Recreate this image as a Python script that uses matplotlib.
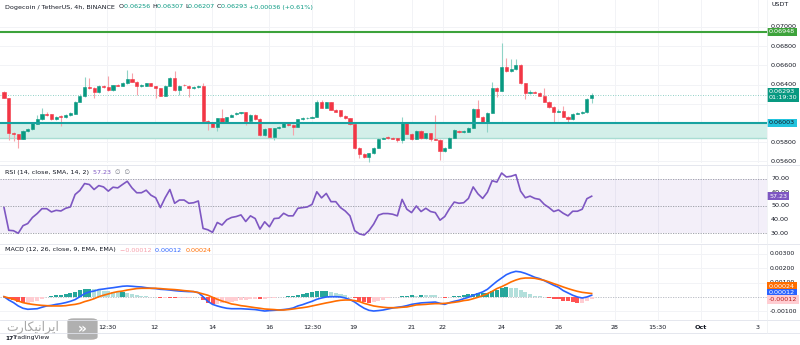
import numpy as np
import matplotlib
matplotlib.use("Agg")
import matplotlib.pyplot as plt
import matplotlib.transforms as mtransforms
from matplotlib.patches import FancyBboxPatch

# DOGE/USDT 4h candles, oldest first
opens = [
    0.06320, 0.06262, 0.05900, 0.05886, 0.05834, 0.05917, 0.05934, 0.05990, 0.06038, 0.06094,
    0.06090, 0.06042, 0.06073, 0.06059, 0.06083, 0.06094, 0.06222, 0.06281, 0.06371, 0.06368,
    0.06319, 0.06385, 0.06371, 0.06340, 0.06399, 0.06385, 0.06413, 0.06458, 0.06430, 0.06389,
    0.06389, 0.06413, 0.06385, 0.06361, 0.06285, 0.06385, 0.06465, 0.06344, 0.06399, 0.06389,
    0.06361, 0.06371, 0.06389, 0.06024, 0.06007, 0.05962, 0.06049, 0.06007, 0.06066, 0.06090,
    0.06101, 0.06111, 0.06021, 0.06083, 0.06042, 0.05875, 0.05945, 0.05858, 0.05945, 0.05962,
    0.05990, 0.05979, 0.05962, 0.06038, 0.06049, 0.06056, 0.06067, 0.06223, 0.06161, 0.06216,
    0.06136, 0.06130, 0.06074, 0.06050, 0.05987, 0.05737, 0.05675, 0.05650, 0.05685, 0.05744,
    0.05834, 0.05852, 0.05848, 0.05841, 0.05824, 0.06008, 0.05886, 0.05834, 0.05918, 0.05841,
    0.05893, 0.05834, 0.05824, 0.05709, 0.05744, 0.05848, 0.05921, 0.05907, 0.05911, 0.05952,
    0.06147, 0.06067, 0.06015, 0.06108, 0.06362, 0.06337, 0.06587, 0.06542, 0.06560, 0.06605,
    0.06414, 0.06310, 0.06327, 0.06317, 0.06285, 0.06223, 0.06171, 0.06119, 0.06129, 0.06067,
    0.06039, 0.06098, 0.06101, 0.06112, 0.06256,
]
closes = [
    0.06262, 0.05900, 0.05886, 0.05834, 0.05920, 0.05938, 0.05997, 0.06042, 0.06094, 0.06083,
    0.06042, 0.06066, 0.06059, 0.06083, 0.06101, 0.06222, 0.06281, 0.06371, 0.06361, 0.06319,
    0.06385, 0.06371, 0.06340, 0.06392, 0.06389, 0.06420, 0.06458, 0.06430, 0.06389, 0.06396,
    0.06413, 0.06385, 0.06361, 0.06285, 0.06385, 0.06465, 0.06344, 0.06389, 0.06392, 0.06361,
    0.06371, 0.06389, 0.06024, 0.06007, 0.05962, 0.06049, 0.06007, 0.06059, 0.06083, 0.06101,
    0.06111, 0.06021, 0.06083, 0.06042, 0.05875, 0.05938, 0.05858, 0.05945, 0.05962, 0.05997,
    0.05979, 0.05962, 0.06038, 0.06049, 0.06056, 0.06067, 0.06223, 0.06161, 0.06216, 0.06136,
    0.06119, 0.06074, 0.06050, 0.05987, 0.05737, 0.05675, 0.05650, 0.05685, 0.05744, 0.05834,
    0.05848, 0.05841, 0.05834, 0.05824, 0.06008, 0.05886, 0.05834, 0.05918, 0.05841, 0.05893,
    0.05834, 0.05824, 0.05709, 0.05744, 0.05848, 0.05928, 0.05907, 0.05918, 0.05952, 0.06147,
    0.06067, 0.06015, 0.06108, 0.06362, 0.06337, 0.06587, 0.06542, 0.06560, 0.06605, 0.06414,
    0.06310, 0.06327, 0.06317, 0.06285, 0.06223, 0.06171, 0.06119, 0.06129, 0.06067, 0.06039,
    0.06095, 0.06105, 0.06112, 0.06251, 0.06293,
]
highs = [
    0.06330, 0.06265, 0.05910, 0.05890, 0.05927, 0.05945, 0.06005, 0.06083, 0.06153, 0.06118,
    0.06095, 0.06075, 0.06085, 0.06090, 0.06110, 0.06230, 0.06300, 0.06483, 0.06465, 0.06375,
    0.06395, 0.06392, 0.06493, 0.06400, 0.06405, 0.06428, 0.06552, 0.06524, 0.06435, 0.06403,
    0.06420, 0.06420, 0.06390, 0.06365, 0.06392, 0.06475, 0.06541, 0.06395, 0.06405, 0.06395,
    0.06380, 0.06400, 0.06413, 0.06030, 0.06015, 0.06055, 0.06142, 0.06066, 0.06090, 0.06110,
    0.06118, 0.06118, 0.06090, 0.06090, 0.06050, 0.05945, 0.05950, 0.05952, 0.05970, 0.06005,
    0.05997, 0.05985, 0.06045, 0.06060, 0.06066, 0.06075, 0.06240, 0.06235, 0.06223, 0.06223,
    0.06145, 0.06140, 0.06080, 0.06056, 0.05995, 0.05745, 0.05685, 0.05692, 0.05752, 0.05842,
    0.05855, 0.05860, 0.05855, 0.05848, 0.06067, 0.06015, 0.05893, 0.05925, 0.05925, 0.05900,
    0.05900, 0.06084, 0.05830, 0.05750, 0.05855, 0.05935, 0.05928, 0.05925, 0.05960, 0.06155,
    0.06240, 0.06075, 0.06115, 0.06431, 0.06370, 0.06830, 0.06674, 0.06664, 0.06664, 0.06612,
    0.06420, 0.06340, 0.06335, 0.06320, 0.06362, 0.06230, 0.06178, 0.06150, 0.06178, 0.06075,
    0.06101, 0.06112, 0.06120, 0.06262, 0.06307,
]
lows = [
    0.06255, 0.05823, 0.05810, 0.05736, 0.05830, 0.05910, 0.05925, 0.05985, 0.06030, 0.06075,
    0.06035, 0.06035, 0.05969, 0.06050, 0.06075, 0.06090, 0.06215, 0.06275, 0.06355, 0.06257,
    0.06310, 0.06365, 0.06335, 0.06335, 0.06385, 0.06380, 0.06405, 0.06425, 0.06292, 0.06375,
    0.06380, 0.06380, 0.06264, 0.06278, 0.06280, 0.06380, 0.06338, 0.06288, 0.06385, 0.06267,
    0.06355, 0.06365, 0.06015, 0.05927, 0.05955, 0.05920, 0.06000, 0.05997, 0.06060, 0.06085,
    0.06095, 0.05980, 0.06015, 0.06035, 0.05868, 0.05868, 0.05850, 0.05820, 0.05938, 0.05955,
    0.05970, 0.05875, 0.05955, 0.06030, 0.06042, 0.06050, 0.06060, 0.06155, 0.06155, 0.06130,
    0.06112, 0.06067, 0.06042, 0.05980, 0.05730, 0.05633, 0.05630, 0.05598, 0.05678, 0.05737,
    0.05828, 0.05835, 0.05828, 0.05800, 0.05790, 0.05880, 0.05820, 0.05828, 0.05835, 0.05835,
    0.05815, 0.05818, 0.05616, 0.05700, 0.05737, 0.05840, 0.05900, 0.05900, 0.05905, 0.05945,
    0.06060, 0.06008, 0.05911, 0.06100, 0.06275, 0.06330, 0.06535, 0.06535, 0.06553, 0.06408,
    0.06250, 0.06303, 0.06310, 0.06278, 0.06216, 0.06160, 0.06015, 0.06112, 0.06060, 0.06000,
    0.06030, 0.06090, 0.06095, 0.06105, 0.06207,
]

rsi = [
    48.8, 32.0, 31.7, 29.8, 35.4, 37.0, 41.5, 44.4, 48.0, 48.0,
    45.6, 46.8, 46.3, 48.3, 49.3, 58.5, 61.5, 66.6, 65.9, 62.2,
    65.1, 64.1, 61.0, 63.9, 63.4, 65.9, 68.3, 63.4, 59.8, 59.8,
    61.7, 58.0, 56.1, 48.8, 56.1, 62.2, 52.0, 54.4, 54.4, 52.0,
    52.4, 53.7, 33.4, 32.4, 30.5, 37.8, 35.9, 39.8, 41.5, 42.2,
    43.4, 38.5, 42.7, 40.7, 32.9, 38.3, 34.6, 40.7, 41.0, 44.6,
    42.7, 42.7, 48.3, 48.8, 49.3, 51.2, 60.5, 56.0, 59.3, 53.2,
    53.2, 48.8, 46.3, 42.7, 31.7, 29.3, 28.5, 31.7, 36.6, 43.2,
    44.4, 44.4, 43.9, 42.7, 54.9, 47.6, 45.1, 50.0, 45.9, 48.3,
    45.9, 45.1, 39.5, 42.2, 48.0, 52.9, 52.0, 52.4, 55.6, 64.1,
    59.0, 55.6, 60.2, 68.7, 67.7, 74.4, 71.5, 72.0, 73.2, 61.0,
    56.1, 57.3, 55.6, 54.9, 51.2, 48.8, 45.9, 47.1, 44.6, 42.7,
    46.1, 46.1, 47.6, 55.4, 57.23,
]

# MACD (12, 26, 9) in units of 1e-5
macd_e5 = [
    2, -21, -39, -62, -78, -85, -83, -81, -71, -62,
    -58, -51, -46, -39, -30, -18, 2, 23, 35, 41,
    51, 55, 60, 64, 69, 74, 76, 74, 71, 69,
    64, 60, 58, 53, 51, 48, 44, 41, 39, 37,
    37, 30, 2, -30, -51, -62, -71, -78, -81, -81,
    -81, -83, -85, -87, -92, -97, -94, -92, -90, -87,
    -83, -76, -62, -53, -41, -30, -16, -7, 0, 2,
    2, 0, -7, -18, -35, -58, -78, -92, -97, -94,
    -90, -83, -76, -71, -67, -60, -51, -46, -41, -39,
    -37, -35, -44, -51, -39, -30, -23, -12, -2, 12,
    23, 35, 53, 81, 108, 131, 154, 168, 177, 173,
    163, 150, 136, 127, 113, 97, 81, 67, 44, 28,
    12, 0, -7, 0, 12,
]
signal_e5 = [
    2, -7, -16, -28, -39, -46, -51, -55, -58, -60,
    -62, -62, -62, -60, -55, -51, -44, -32, -23, -12,
    2, 12, 21, 30, 37, 41, 48, 53, 58, 60,
    60, 60, 60, 58, 55, 53, 51, 48, 44, 41,
    37, 30, 21, 12, -2, -16, -28, -37, -48, -53,
    -60, -64, -69, -74, -78, -83, -85, -87, -90, -90,
    -87, -83, -78, -74, -69, -62, -55, -48, -41, -35,
    -28, -23, -21, -21, -25, -32, -44, -53, -62, -67,
    -71, -74, -74, -74, -71, -69, -62, -55, -53, -51,
    -48, -46, -46, -44, -41, -37, -32, -25, -21, -12,
    -2, 9, 23, 39, 58, 71, 87, 104, 117, 127,
    131, 131, 129, 122, 115, 104, 92, 81, 69, 58,
    48, 39, 32, 28, 24,
]

resistance = 0.06948
zone_top = 0.06003
zone_bottom = 0.05844
last_price = 0.06293

price_ticks = [0.05600, 0.05800, 0.06400, 0.06600, 0.06800, 0.07000]
rsi_ticks = [30, 40, 50, 60, 70]
macd_ticks = [-0.001, 0.001, 0.002, 0.003]
time_labels = ["12:30", "12", "14", "16", "12:30", "19", "21", "22", "24", "26", "28", "15:30", "Oct", "3"]
time_pos = [21.7, 31.8, 43.9, 55.9, 65.0, 73.8, 86.0, 92.6, 105.0, 117.0, 128.9, 137.9, 147.0, 159.0]

UP = "#089981"
DOWN = "#f23645"
GRID = "#f2f3f6"
TXT = "#131722"

W, H = 800, 345
fig = plt.figure(figsize=(W / 100, H / 100), dpi=100)
fig.patch.set_facecolor("white")


def px_axes(top, bottom):
    return fig.add_axes([0, 1 - bottom / H, 767 / W, (bottom - top) / H])


ax_p = px_axes(0, 163)
ax_r = px_axes(166, 243)
ax_m = px_axes(245, 320)

x = np.arange(len(opens))
o = np.array(opens)
c = np.array(closes)
hi = np.array(highs)
lo = np.array(lows)
up = c >= o
xlim = (-0.85, 161.0)

for ax in (ax_p, ax_r, ax_m):
    ax.set_xlim(*xlim)
    for s in ax.spines.values():
        s.set_visible(False)
    ax.tick_params(length=0, labelleft=False, labelbottom=False)
    ax.set_xticks(time_pos)
    ax.grid(axis="x", color=GRID, lw=0.7)
    ax.set_axisbelow(True)

# ---- price pane
ax_p.set_ylim(0.05583, 0.07281)
ax_p.set_yticks(price_ticks + [0.060, 0.062])
ax_p.grid(axis="y", color=GRID, lw=0.7)
ax_p.axhspan(zone_bottom, zone_top, color="#d3efe9", lw=0, zorder=1)
ax_p.axhline(zone_bottom, color="#a9ddd3", lw=1.0, zorder=1.5)
ax_p.axhline(zone_top, color="#17a2a0", lw=1.5, zorder=4)
ax_p.axhline(resistance, color="#3da33b", lw=1.5, zorder=4)
ax_p.axhline(last_price, color="#089981", lw=0.6, ls=(0, (1, 2)), alpha=0.6, zorder=1.5)

wick_col = np.where(up, "#8fd3c6", "#f7a3aa")
ax_p.vlines(x, lo, hi, colors=wick_col, lw=0.8, zorder=2)
body_col = np.where(up, UP, DOWN)
ax_p.bar(x, c - o, bottom=o, width=0.66, color=body_col, edgecolor=body_col, lw=0.4, zorder=3)

trans_p = mtransforms.blended_transform_factory(fig.transFigure, ax_p.transData)
for t in price_ticks:
    ax_p.text(771 / W, t, f"{t:.5f}", transform=trans_p, fontsize=4.6, color=TXT, va="center", ha="left")
fig.text(771 / W, 1 - 5 / H, "USDT", fontsize=4.6, color=TXT, va="center", ha="left")


def tag(ax, y, text, bg, fg="white", trans=None):
    ax.text(769 / W, y, text, transform=trans, fontsize=4.6, color=fg, va="center", ha="left",
            bbox=dict(boxstyle="square,pad=0.25", fc=bg, ec="none"), zorder=10)


tag(ax_p, resistance, f"{resistance:.5f}", "#3da33b", trans=trans_p)
tag(ax_p, last_price, f"{last_price:.5f}\n01:19:30", "#089981", trans=trans_p)
tag(ax_p, zone_top, f"{zone_top:.5f}", "#22c3dd", fg=TXT, trans=trans_p)

# header
hx = 5 / W
hy = 1 - 7 / H
parts = [("Dogecoin / TetherUS, 4h, BINANCE  ", TXT), ("O", TXT), ("0.06256 ", UP), ("H", TXT),
         ("0.06307 ", UP), ("L", TXT), ("0.06207 ", UP), ("C", TXT), ("0.06293 ", UP),
         ("+0.00036 (+0.61%)", UP)]
renderer = fig.canvas.get_renderer()
for txt, col in parts:
    t = fig.text(hx, hy, txt, fontsize=4.6, color=col, va="center", ha="left")
    bb = t.get_window_extent(renderer=renderer)
    hx += bb.width / fig.bbox.width

# ---- RSI pane
ax_r.set_ylim(22.6, 79.6)
ax_r.axhspan(30, 70, color="#7e57c2", alpha=0.09, lw=0)
for lvl in (30, 50, 70):
    ax_r.axhline(lvl, color="#9598a1", lw=0.6, ls=(0, (1.5, 1.5)))
ax_r.plot(x, rsi, color="#7e57c2", lw=1.2, zorder=3)
trans_r = mtransforms.blended_transform_factory(fig.transFigure, ax_r.transData)
for t in rsi_ticks:
    ax_r.text(771 / W, t, f"{t:.2f}", transform=trans_r, fontsize=4.6, color=TXT, va="center", ha="left")
tag(ax_r, rsi[-1], f"{rsi[-1]:.2f}", "#7e57c2", trans=trans_r)
hx = 5 / W
hy = 1 - 172 / H
for txt, col in [("RSI (14, close, SMA, 14, 2)  ", TXT), ("57.23  ", "#7e57c2"), ("\u2205  \u2205", "#787b86")]:
    t = fig.text(hx, hy, txt, fontsize=4.6, color=col, va="center", ha="left")
    hx += t.get_window_extent(renderer=renderer).width / fig.bbox.width

# ---- MACD pane
macd = np.array(macd_e5) * 1e-5
signal = np.array(signal_e5) * 1e-5
hist = macd - signal
hcol = []
for i, h in enumerate(hist):
    prev = hist[i - 1] if i > 0 else h
    if h >= 0:
        hcol.append("#26a69a" if h >= prev else "#b2dfdb")
    else:
        hcol.append("#ff5252" if h < prev else "#ffcdd2")
ax_m.set_ylim(-0.00159, 0.00359)
ax_m.set_yticks(macd_ticks)
ax_m.grid(axis="y", color=GRID, lw=0.7)
ax_m.axhline(0, color="#b2b5be", lw=0.6, ls=(0, (1.5, 1.5)))
ax_m.bar(x, hist, width=0.85, color=hcol, zorder=2)
ax_m.plot(x, macd, color="#2962ff", lw=1.2, zorder=3)
ax_m.plot(x, signal, color="#ff6d00", lw=1.2, zorder=4)
trans_m = mtransforms.blended_transform_factory(fig.transFigure, ax_m.transData)
for t in macd_ticks:
    ax_m.text(770 / W, t, f"{t:.5f}", transform=trans_m, fontsize=4.4,
              color=TXT, va="center", ha="left")
tag(fig, 1 - 286.5 / H, f"{signal[-1]:.5f}", "#ff6d00", trans=fig.transFigure)
tag(fig, 1 - 293 / H, f"{macd[-1]:.5f}", "#2962ff", trans=fig.transFigure)
tag(fig, 1 - 299.5 / H, "-0.00012", "#ffcdd2", fg="#b71c1c", trans=fig.transFigure)
hx = 5 / W
hy = 1 - 250 / H
for txt, col in [("MACD (12, 26, close, 9, EMA, EMA)  ", TXT), ("\u22120.00012  ", "#f7a1ad"),
                 ("0.00012  ", "#2962ff"), ("0.00024", "#ff6d00")]:
    t = fig.text(hx, hy, txt, fontsize=4.6, color=col, va="center", ha="left")
    hx += t.get_window_extent(renderer=renderer).width / fig.bbox.width

# time axis labels
for lab, pos in zip(time_labels, time_pos):
    ax_m.text(pos, -0.095, lab, transform=mtransforms.blended_transform_factory(ax_m.transData, ax_m.transAxes),
              fontsize=4.6, color=TXT, ha="center", va="center",
              fontweight="bold" if lab == "Oct" else "normal")

# pane separators
for yy in (164.5, 244, 320, 333):
    fig.add_artist(plt.Line2D([0, 1], [1 - yy / H] * 2, color="#e0e3eb", lw=0.6))
fig.add_artist(plt.Line2D([767 / W] * 2, [1 - 333 / H, 1], color="#eceef2", lw=0.5))

# watermark (pre-shaped Persian, visual order) and logo
fig.text(6 / W, 1 - 327 / H, "\ufe95\ufead\ufe8e\ufedc\ufef4\ufee7\ufe8d\ufeae\ufef3\ufe8d",
         fontsize=9, color="#a8a8a8", va="center", ha="left", family=["DejaVu Sans"])
fig.add_artist(FancyBboxPatch((69 / W, 1 - 339 / H), 27 / W, 20 / H, boxstyle="round,pad=0.002,rounding_size=0.008",
                              fc="#b0b0b0", ec="none", transform=fig.transFigure))
fig.text(82.5 / W, 1 - 329 / H, "\u00bb", fontsize=10, color="white", va="center", ha="center", fontweight="bold")
fig.text(5 / W, 1 - 338 / H, "17", fontsize=4.2, color=TXT, va="center", ha="left", fontweight="bold")
fig.text(13 / W, 1 - 338 / H, "TradingView", fontsize=4.4, color=TXT, va="center", ha="left")

fig.savefig("out.png", dpi=100, facecolor="white")
